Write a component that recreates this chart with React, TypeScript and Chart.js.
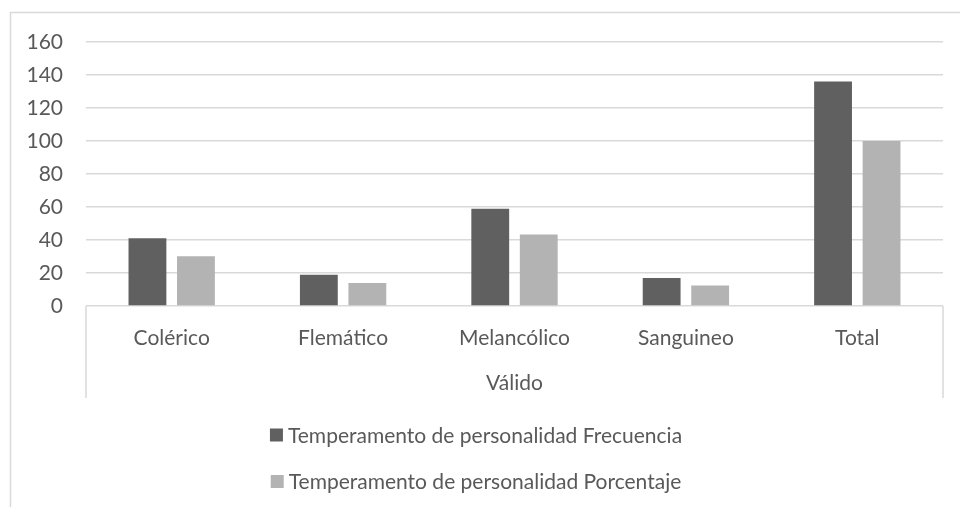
import React, { useEffect, useRef } from "react";
import { Chart, registerables } from "chart.js";

Chart.register(...registerables);

const categories = ["Colérico", "Flemático", "Melancólico", "Sanguineo", "Total"];
const groupLabel = "Válido";
const frecuencia = [41, 19, 59, 17, 136];
const porcentaje = [30.1, 14.0, 43.4, 12.5, 100];
const seriesLabels = [
  "Temperamento de personalidad Frecuencia",
  "Temperamento de personalidad Porcentaje",
];
const seriesColors = ["#606060", "#b3b3b3"];
const yMin = 0;
const yMax = 160;
const yStep = 20;

const FONT = "Lato, 'Open Sans', sans-serif";
const FS = 21;
const TEXT = "#595959";
const LINE = "#d9d9d9";

const decor = {
  id: "decor",
  beforeDraw(chart: any) {
    const ctx = chart.ctx;
    ctx.save();
    ctx.strokeStyle = LINE;
    ctx.lineWidth = 1.5;
    ctx.beginPath();
    ctx.moveTo(10.5, chart.height);
    ctx.lineTo(10.5, 12.5);
    ctx.lineTo(chart.width, 12.5);
    ctx.stroke();
    ctx.restore();
  },
  afterDraw(chart: any) {
    const ctx = chart.ctx;
    const { left, right, bottom } = chart.chartArea;
    const xs = chart.scales.x;
    ctx.save();
    ctx.strokeStyle = LINE;
    ctx.lineWidth = 1.5;
    ctx.beginPath();
    ctx.moveTo(left, bottom);
    ctx.lineTo(left, xs.bottom);
    ctx.moveTo(right, bottom);
    ctx.lineTo(right, xs.bottom);
    ctx.stroke();

    // legend (stacked rows)
    ctx.font = `${FS}px ${FONT}`;
    ctx.textBaseline = "middle";
    ctx.textAlign = "left";
    const centerX = 476;
    const rowsY = [435, 481.5];
    const box = 13;
    const gap = 5;
    chart.data.datasets.forEach((ds: any, i: number) => {
      const w = ctx.measureText(ds.label).width;
      const total = box + gap + w;
      const x0 = centerX - total / 2;
      const y = rowsY[i];
      ctx.fillStyle = ds.backgroundColor;
      ctx.fillRect(x0, y - box / 2, box, box);
      ctx.fillStyle = TEXT;
      ctx.fillText(ds.label, x0 + box + gap, y + 1);
    });
    ctx.restore();
  },
};

export default function App() {
  const ref = useRef<HTMLCanvasElement>(null);
  useEffect(() => {
    const chart = new Chart(ref.current!, {
      type: "bar",
      data: {
        labels: categories,
        datasets: [
          {
            label: seriesLabels[0],
            data: frecuencia,
            backgroundColor: seriesColors[0],
            categoryPercentage: 0.566,
            barPercentage: 0.78,
          },
          {
            label: seriesLabels[1],
            data: porcentaje,
            backgroundColor: seriesColors[1],
            categoryPercentage: 0.566,
            barPercentage: 0.78,
          },
        ],
      },
      options: {
        animation: false,
        responsive: false,
        devicePixelRatio: 1,
        layout: { padding: { left: 0, right: 17, top: 42, bottom: 109 } },
        plugins: { legend: { display: false }, tooltip: { enabled: false } },
        scales: {
          x: {
            grid: { display: false },
            border: { display: false },
            ticks: { font: { family: FONT, size: FS }, color: TEXT, padding: 12 },
            title: {
              display: true,
              text: groupLabel,
              font: { family: FONT, size: FS },
              color: TEXT,
              padding: { top: 0, bottom: 2 },
            },
            afterFit(scale: any) {
              scale.height = 92;
            },
          },
          y: {
            min: yMin,
            max: yMax,
            ticks: {
              stepSize: yStep,
              font: { family: FONT, size: FS },
              color: TEXT,
              padding: 23,
            },
            grid: { color: LINE, lineWidth: 1.5, drawTicks: false },
            border: { display: false },
            afterFit(scale: any) {
              scale.width = 86;
            },
          },
        },
      },
      plugins: [decor],
    });
    return () => chart.destroy();
  }, []);
  return (
    <div style={{ position: "fixed", left: 0, top: 0, width: 960, height: 507, background: "#fff" }}>
      <canvas ref={ref} width={960} height={507} />
    </div>
  );
}
